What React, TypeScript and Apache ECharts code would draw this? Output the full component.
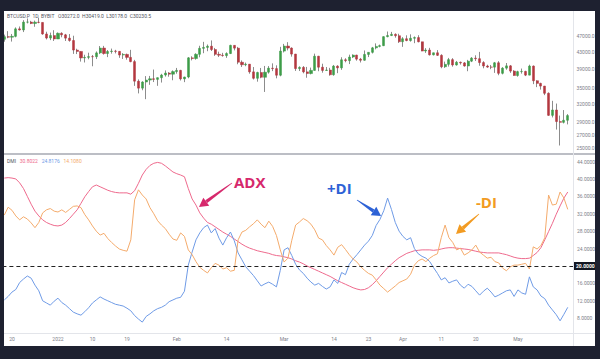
import React, { useEffect, useRef } from "react";
import * as echarts from "echarts";

// ---------- DATA ----------
const START_DATE = "2021-12-18";
const EMPTY_SLOTS_AFTER = 1;

const opens = [
  46130, 46830, 46680, 46910, 48930, 48620, 50820, 50840, 50420, 50800, 50720, 47540, 46460, 47120,
  46220, 47730, 47310, 46440, 45830, 43430, 43090, 41550, 41680, 41860, 41830, 42740, 43920, 42590, 43080, 43180, 43110, 42230, 42380, 41680, 40700, 36460, 35060, 36290, 36690, 36960, 36830, 37180, 37740, 38170, 37920,
  38480, 38740, 36930, 37320, 41570, 41410, 42410, 43850, 44080, 44380, 43560, 42400, 42200, 42100, 42590, 44590, 43900, 40560, 39990, 40120, 38420, 37060, 38280, 37270, 38350, 39230, 39130, 37700,
  43180, 44420, 43920, 42460, 39140, 39400, 38420, 38060, 38740, 41950, 39440, 38730, 38820, 37800, 39680, 39290, 41120, 40920, 41760, 42220, 41270, 41010, 42370, 42880, 43970, 44330, 44520, 46820, 47120, 47450, 47070,
  45520, 46280, 45810, 46410, 46590, 45500, 43190, 43440, 42280, 42770, 42160, 39530, 40080, 41150, 39940, 40550, 40400, 39710, 40800, 41500, 41370, 40480, 39710, 39470, 39450, 40430, 38110, 39230, 39740, 38590,
  37640, 38470, 38520, 37720, 39690, 36550, 36010, 35470, 34060, 30090, 31010, 29060, 28930, 29270,
];
const closes = [
  46830, 46680, 46910, 48930, 48620, 50820, 50840, 50420, 50800, 50720, 47540, 46460, 47120, 46220,
  47730, 47310, 46440, 45830, 43430, 43090, 41550, 41680, 41860, 41830, 42740, 43920, 42590, 43080, 43180, 43110, 42230, 42380, 41680, 40700, 36460, 35060, 36290, 36690, 36960, 36830, 37180, 37740, 38170, 37920, 38480,
  38740, 36930, 37320, 41570, 41410, 42410, 43850, 44080, 44380, 43560, 42400, 42200, 42100, 42590, 44590, 43900, 40560, 39990, 40120, 38420, 37060, 38280, 37270, 38350, 39230, 39130, 37700, 43180,
  44420, 43920, 42460, 39140, 39400, 38420, 38060, 38740, 41950, 39440, 38730, 38820, 37800, 39680, 39290, 41120, 40920, 41760, 42220, 41270, 41010, 42370, 42880, 43970, 44330, 44520, 46820, 47120, 47450, 47070, 45520,
  46280, 45810, 46410, 46590, 45500, 43190, 43440, 42280, 42770, 42160, 39530, 40080, 41150, 39940, 40550, 40400, 39710, 40800, 41500, 41370, 40480, 39710, 39470, 39450, 40430, 38110, 39230, 39740, 38590, 37640,
  38470, 38520, 37720, 39690, 36550, 36010, 35470, 34060, 30090, 31010, 29060, 28930, 29270, 30050,
];
const highs = [
  47360, 48300, 47540, 49330, 49580, 51380, 51860, 51180, 51250, 52100, 50720, 48140, 47900, 48560,
  47950, 47990, 47560, 47510, 47070, 43750, 43130, 42300, 42790, 42240, 43100, 44420, 44460, 43440, 43790, 43480, 43180, 42690, 42570, 43480, 41100, 36830, 36450, 37520, 37550, 38920, 37230, 38000, 38730, 38370, 38740,
  39280, 38860, 37380, 41750, 41940, 42650, 44490, 45480, 44810, 45840, 43950, 43040, 42760, 42880, 44740, 44590, 44200, 40970, 40480, 40150, 39480, 38450, 39270, 39720, 39690, 40300, 39860, 44220,
  44960, 45400, 44100, 42500, 39640, 39690, 39500, 39350, 42560, 42040, 40220, 39480, 39300, 39940, 39880, 41710, 41480, 42320, 42400, 42300, 41550, 43330, 42880, 44200, 45090, 44790, 46930, 48200, 48100, 47700, 47600,
  46700, 47180, 47440, 46880, 47210, 45500, 43900, 43970, 42800, 43420, 42420, 40700, 41550, 41500, 40850, 40700, 40600, 41100, 41750, 42170, 42980, 40790, 39990, 39940, 40620, 40800, 39450, 40380, 39920, 38800,
  38660, 39140, 38650, 40000, 39830, 36640, 36140, 35500, 34240, 32650, 32150, 30050, 31000, 30300,
];
const lows = [
  45520, 46420, 45550, 46650, 48450, 48050, 50450, 50240, 49500, 50490, 47320, 46100, 45930, 45700,
  46220, 46660, 45700, 45520, 42500, 42460, 40700, 40500, 41230, 39650, 41290, 42460, 42330, 41740, 42560, 42620, 41570, 41310, 41140, 40550, 35510, 34040, 34650, 32950, 35720, 36280, 35520, 36180, 37410, 37390, 36650,
  38030, 36600, 36260, 37060, 40980, 41140, 41700, 42670, 43150, 43200, 42030, 41760, 41850, 41570, 42460, 43350, 40100, 39480, 39660, 38020, 36800, 36360, 37070, 34320, 38040, 38580, 37050, 37480,
  42850, 43350, 41850, 38620, 38600, 38110, 37170, 37880, 38660, 38560, 38240, 38670, 37600, 37600, 38140, 38860, 40540, 40140, 41520, 40920, 40500, 40890, 41750, 42600, 43600, 44100, 44400, 46660, 46980, 46560, 45200,
  44220, 45640, 45530, 45140, 45350, 43140, 42740, 42110, 42130, 42020, 39210, 39280, 39580, 39560, 39780, 40020, 39560, 38560, 40590, 40850, 39760, 39200, 39300, 39000, 38200, 37700, 37880, 38880, 38200, 37600,
  37390, 38040, 37520, 37680, 35860, 35260, 34780, 33710, 30000, 29740, 27780, 25400, 28750, 28600,
];

const adx = [
  40.2, 40.3, 40.2, 40.0, 39.1, 37.8, 36.0, 34.2, 32.6, 31.5, 30.6, 30.0, 29.6, 29.3,
  29.2, 29.4, 30.0, 30.9, 31.9, 32.9, 34.4, 35.9, 37.1, 38.2, 38.6, 38.2, 37.8, 37.4, 37.1, 36.9, 36.8, 36.8, 36.8, 36.5, 37.3, 39.0, 40.9, 42.2, 43.1, 43.6, 43.8, 43.6, 43.0, 42.3, 41.6,
  41.2, 40.9, 40.5, 37.8, 35.4, 34.0, 32.2, 31.0, 30.0, 29.6, 29.0, 28.4, 27.8, 27.3, 26.8, 26.2, 25.6, 25.0, 24.5, 24.1, 23.8, 23.5, 23.3, 23.1, 22.9, 22.6, 22.4, 22.3,
  22.1, 21.9, 21.6, 21.2, 20.9, 20.5, 20.0, 19.6, 19.2, 18.8, 18.4, 18.0, 17.6, 17.1, 16.6, 16.2, 15.8, 15.4, 15.0, 14.7, 14.5, 14.6, 15.0, 15.7, 16.6, 17.6, 18.6, 19.6, 20.4, 21.2, 21.9,
  22.4, 22.9, 23.2, 23.5, 23.6, 23.7, 23.7, 23.7, 23.6, 23.7, 23.9, 24.1, 24.2, 24.2, 24.1, 24.0, 23.9, 23.8, 23.6, 23.4, 23.2, 23.1, 23.0, 23.0, 23.0, 23.0, 22.8, 22.6, 22.3, 22.0,
  21.8, 21.7, 21.7, 21.8, 22.4, 23.1, 24.2, 26.0, 27.9, 29.8, 31.9, 33.8, 35.6, 37.0,
];
const plusDI = [
  12.2, 13.0, 14.0, 14.6, 16.2, 17.0, 17.7, 17.2, 15.6, 14.3, 12.0, 11.5, 11.0, 11.9,
  12.6, 11.6, 11.0, 10.2, 9.4, 9.0, 8.7, 9.5, 10.4, 11.5, 12.2, 12.9, 12.4, 12.0, 11.6, 11.2, 11.0, 10.8, 10.3, 9.7, 8.6, 7.8, 7.1, 8.4, 9.0, 9.7, 10.2, 10.5, 11.0, 11.8, 12.2,
  12.6, 12.8, 14.2, 20.2, 23.2, 26.0, 27.6, 28.8, 29.4, 27.6, 28.6, 26.4, 24.8, 26.5, 27.8, 25.8, 23.0, 21.4, 19.8, 18.8, 17.8, 16.6, 15.4, 15.9, 16.3, 15.8, 15.2, 19.0,
  23.7, 24.2, 22.4, 20.4, 19.1, 18.3, 17.2, 16.3, 15.6, 16.0, 15.3, 14.7, 15.2, 16.8, 16.0, 18.5, 18.0, 20.4, 21.6, 22.6, 23.7, 24.8, 25.7, 27.0, 29.3, 30.7, 32.7, 35.6, 33.0, 30.0, 28.0,
  26.8, 26.0, 26.5, 24.0, 22.8, 22.2, 21.8, 21.0, 19.6, 18.3, 16.8, 17.3, 16.1, 16.5, 16.8, 15.6, 14.9, 15.8, 15.3, 14.3, 13.3, 14.2, 14.9, 14.0, 12.9, 13.3, 13.8, 14.3, 14.5, 13.0,
  14.5, 13.8, 13.5, 17.5, 15.2, 14.5, 13.1, 12.5, 11.0, 9.9, 8.8, 7.4, 8.9, 10.5,
];
const minusDI = [
  31.7, 33.5, 32.8, 31.5, 30.6, 31.3, 30.8, 29.9, 28.8, 30.0, 32.2, 32.9, 33.2, 32.6,
  32.4, 32.9, 32.3, 33.0, 33.7, 33.8, 33.4, 31.8, 30.6, 29.2, 28.0, 27.1, 27.5, 26.3, 25.4, 24.6, 23.9, 23.6, 23.4, 26.0, 35.2, 37.5, 36.3, 35.4, 33.4, 32.0, 30.4, 29.4, 28.6, 27.3, 26.2,
  25.9, 27.6, 26.8, 23.7, 22.6, 21.0, 19.7, 19.0, 18.4, 19.6, 20.6, 20.2, 19.3, 19.6, 18.8, 19.0, 26.0, 27.8, 28.2, 29.0, 29.7, 30.6, 29.6, 28.8, 30.3, 29.1, 27.0, 23.7,
  20.9, 21.8, 25.9, 29.4, 30.1, 30.9, 30.4, 29.6, 28.3, 26.4, 26.0, 24.7, 23.7, 22.5, 24.3, 24.9, 23.8, 22.6, 21.6, 20.9, 19.8, 19.0, 18.3, 17.9, 16.8, 15.6, 14.8, 14.0, 14.7, 15.4, 16.2,
  16.6, 17.0, 18.1, 20.2, 21.2, 21.6, 21.0, 21.8, 22.4, 22.8, 26.5, 29.4, 26.5, 25.4, 23.7, 24.1, 22.5, 23.0, 23.7, 24.8, 23.2, 22.5, 21.8, 22.0, 21.0, 20.7, 19.5, 18.9, 19.8, 20.2,
  20.2, 20.4, 20.6, 19.3, 24.4, 23.9, 24.7, 26.5, 36.3, 34.0, 34.2, 37.0, 35.6, 33.0,
];

const priceTicks = [47000, 43000, 39000, 35000, 32000, 29000, 27000, 25000];
const dmiTicks = [8, 12, 16, 24, 28, 32, 36, 40, 44];
const dmiBaseLevel = 20;

const timeTickDates = [
  "2021-12-20", "2022-01-01", "2022-01-10", "2022-01-19", "2022-02-01", "2022-02-14", "2022-03-01",
  "2022-03-14", "2022-03-23", "2022-04-01", "2022-04-11", "2022-04-20", "2022-05-01",
];
const timeTickTexts = ["20", "2022", "10", "19", "Feb", "14", "Mar", "14", "23", "Apr", "11", "20", "May"];

const ohlcLegend = "BTCUSD.P  1D  BYBIT   O30272.0  H30419.0  L30178.0  C30230.5";
const dmiLegendValues = ["30.8022", "24.8176", "14.1080"];

// ---------- STYLE ----------
const FONT = "Roboto, 'Noto Sans', sans-serif";
const UP = "#3d9c48";
const DOWN = "#b3373f";
const WICK = "#6e6e6e";
const ADX_C = "#ee6a8d";
const PDI_C = "#6f9be6";
const MDI_C = "#f4ab6c";
const AXIS_TXT = "#7d808a";
const FAINT = "#e3e5ea";

function buildDates(): string[] {
  const out: string[] = [];
  const d0 = new Date(START_DATE + "T00:00:00Z");
  for (let i = 0; i < opens.length + EMPTY_SLOTS_AFTER; i++) {
    const d = new Date(d0.getTime() + i * 86400000);
    out.push(d.toISOString().slice(0, 10));
  }
  return out;
}

function arrow(tx: number, ty: number, px: number, py: number, color: string) {
  const dx = px - tx, dy = py - ty;
  const len = Math.hypot(dx, dy);
  const ux = dx / len, uy = dy / len;
  const nx = -uy, ny = ux;
  const hl = 9, hw = 5;
  const bx = px - ux * hl, by = py - uy * hl;
  return [
    {
      type: "polygon",
      shape: {
        points: [
          [tx + nx * 0.4, ty + ny * 0.4],
          [bx + nx * 1.7, by + ny * 1.7],
          [bx - nx * 1.7, by - ny * 1.7],
          [tx - nx * 0.4, ty - ny * 0.4],
        ],
      },
      style: { fill: color },
      z: 100,
    },
    {
      type: "polygon",
      shape: { points: [[px, py], [bx + nx * hw, by + ny * hw], [bx - nx * hw, by - ny * hw]] },
      style: { fill: color },
      z: 100,
    },
  ];
}

function txt(x: number, y: number, text: string, extra: any) {
  return {
    type: "text",
    x,
    y,
    z: 100,
    style: {
      text,
      fontFamily: FONT,
      align: "left",
      verticalAlign: "middle",
      textAlign: "left",
      textVerticalAlign: "middle",
      ...extra,
    },
  };
}

export default function App() {
  const ref = useRef<HTMLDivElement>(null);

  useEffect(() => {
    if (!ref.current) return;
    const chart = echarts.init(ref.current, undefined, { renderer: "svg" });
    const dates = buildDates();
    const wickData = opens.map((o, i) => [o, closes[i], lows[i], highs[i]]);
    const bodyData = opens.map((o, i) => [o, closes[i], Math.min(o, closes[i]), Math.max(o, closes[i])]);
    const tickMap: Record<string, string> = {};
    timeTickDates.forEach((d, i) => (tickMap[d] = timeTickTexts[i]));

    const gridLeft = 2.4;
    const gridWidth = 571.1;

    const option: any = {
      animation: false,
      backgroundColor: "transparent",
      grid: [
        { left: gridLeft, width: gridWidth, top: 11, height: 142 },
        { left: gridLeft, width: gridWidth, top: 155, height: 178 },
      ],
      xAxis: [
        {
          type: "category",
          gridIndex: 0,
          data: dates,
          boundaryGap: true,
          axisLine: { show: false },
          axisTick: { show: false },
          axisLabel: { show: false },
          splitLine: { show: false },
        },
        {
          type: "category",
          gridIndex: 1,
          data: dates,
          boundaryGap: true,
          axisLine: { show: false },
          axisTick: { show: false },
          splitLine: { show: false },
          axisLabel: {
            interval: (_idx: number, value: string) => tickMap[value] !== undefined,
            formatter: (value: string) => tickMap[value] || "",
            fontSize: 5,
            color: AXIS_TXT,
            fontFamily: FONT,
            margin: 3.5,
          },
        },
      ],
      yAxis: [
        {
          type: "log",
          gridIndex: 0,
          position: "right",
          min: 24350,
          max: 54090,
          axisLine: { show: false },
          axisTick: { show: false },
          axisLabel: { show: false },
          splitLine: { show: false },
        },
        {
          type: "value",
          gridIndex: 1,
          position: "right",
          min: 4.6,
          max: 45.5,
          axisLine: { show: false },
          axisTick: { show: false },
          splitLine: { show: false },
          axisLabel: {
            customValues: dmiTicks,
            formatter: (v: number) => v.toFixed(4),
            fontSize: 5,
            color: AXIS_TXT,
            fontFamily: FONT,
            margin: 3.5,
          },
        },
      ],
      series: [
        {
          name: "wick",
          type: "candlestick",
          xAxisIndex: 0,
          yAxisIndex: 0,
          data: wickData,
          barWidth: 1,
          itemStyle: { color: WICK, color0: WICK, borderColor: WICK, borderColor0: WICK, borderWidth: 0.8 },
          markLine: {
            silent: true,
            symbol: "none",
            lineStyle: { color: "rgba(255,255,255,0)", width: 0.1, type: "solid" },
            label: {
              show: true,
              position: "end",
              distance: 3,
              formatter: (p: any) => Number(p.value).toFixed(1),
              fontSize: 5,
              color: AXIS_TXT,
              fontFamily: FONT,
            },
            data: priceTicks.map((v) => ({ yAxis: v })),
          },
        },
        {
          name: "body",
          type: "candlestick",
          xAxisIndex: 0,
          yAxisIndex: 0,
          data: bodyData,
          barWidth: "68%",
          itemStyle: { color: UP, color0: DOWN, borderColor: UP, borderColor0: DOWN, borderWidth: 0.5 },
        },
        {
          name: "ADX",
          type: "line",
          xAxisIndex: 1,
          yAxisIndex: 1,
          data: adx,
          showSymbol: false,
          lineStyle: { color: ADX_C, width: 1 },
          markLine: {
            silent: true,
            symbol: "none",
            lineStyle: { color: "#222", type: [4, 3], width: 1 },
            label: {
              position: "end",
              distance: 0,
              formatter: dmiBaseLevel.toFixed(4),
              backgroundColor: "#131722",
              color: "#ffffff",
              padding: [1.5, 2.5, 1.5, 2.5],
              fontSize: 5,
              fontWeight: "bold",
              fontFamily: FONT,
            },
            data: [{ yAxis: dmiBaseLevel }],
          },
        },
        {
          name: "+DI",
          type: "line",
          xAxisIndex: 1,
          yAxisIndex: 1,
          data: plusDI,
          showSymbol: false,
          lineStyle: { color: PDI_C, width: 1 },
        },
        {
          name: "-DI",
          type: "line",
          xAxisIndex: 1,
          yAxisIndex: 1,
          data: minusDI,
          showSymbol: false,
          lineStyle: { color: MDI_C, width: 1 },
        },
      ],
      graphic: [
        { type: "line", shape: { x1: 4, y1: 154, x2: 596, y2: 154 }, style: { stroke: "#a6a9b2", lineWidth: 1.5 }, z: 50 },
        { type: "line", shape: { x1: 4, y1: 333.5, x2: 596, y2: 333.5 }, style: { stroke: FAINT, lineWidth: 1 }, z: 50 },
        { type: "line", shape: { x1: 573.5, y1: 11, x2: 573.5, y2: 346 }, style: { stroke: FAINT, lineWidth: 1 }, z: 50 },
        txt(7, 16, ohlcLegend, { fontSize: 5, fill: "#50535e" }),
        txt(7, 161, "{a|DMI}   {b|" + dmiLegendValues[0] + "}   {c|" + dmiLegendValues[1] + "}   {d|" + dmiLegendValues[2] + "}", {
          fontSize: 5,
          rich: {
            a: { fontSize: 5, fill: "#50535e", color: "#50535e", fontFamily: FONT },
            b: { fontSize: 5, fill: ADX_C, color: ADX_C, fontFamily: FONT },
            c: { fontSize: 5, fill: PDI_C, color: PDI_C, fontFamily: FONT },
            d: { fontSize: 5, fill: MDI_C, color: MDI_C, fontFamily: FONT },
          },
        }),
        txt(234, 182, "ADX", { fontSize: 15, fontWeight: "bold", fill: "#d6286c", fontFamily: "'Open Sans', sans-serif" }),
        txt(327, 188, "+DI", { fontSize: 15, fontWeight: "bold", fill: "#2d62d6", fontFamily: "'Open Sans', sans-serif" }),
        txt(476, 202, "-DI", { fontSize: 15, fontWeight: "bold", fill: "#f29b22", fontFamily: "'Open Sans', sans-serif" }),
        ...arrow(232, 183, 199, 207, "#d6286c"),
        ...arrow(357, 200, 381, 216, "#2d62d6"),
        ...arrow(479, 214, 456, 234, "#f29b22"),
      ],
    };
    chart.setOption(option);
    return () => chart.dispose();
  }, []);

  return (
    <div style={{ position: "fixed", left: 0, top: 0, width: 600, height: 359, background: "#1e2130", overflow: "hidden" }}>
      <div
        style={{
          position: "absolute",
          left: 4,
          top: 11,
          width: 591,
          height: 335,
          background: "#ffffff",
          overflow: "hidden",
        }}
      >
        <div ref={ref} style={{ position: "absolute", left: -4, top: -11, width: 600, height: 359 }} />
      </div>
    </div>
  );
}
